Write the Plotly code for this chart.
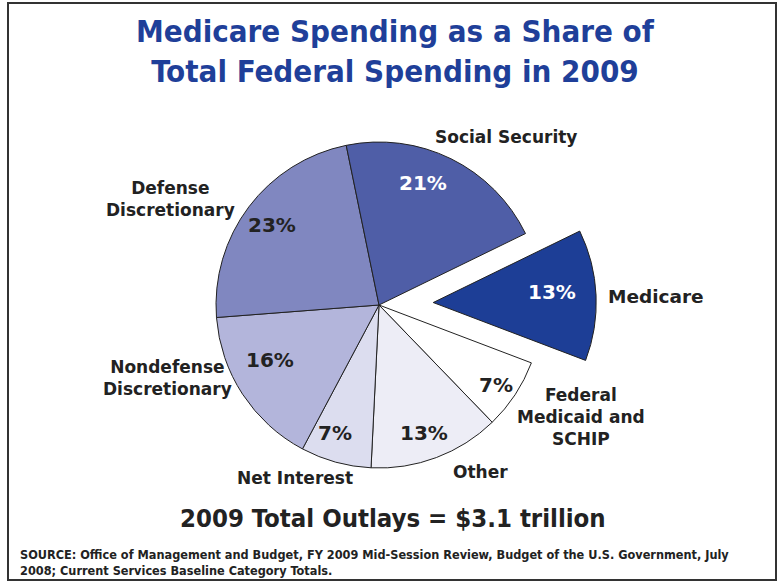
import plotly.graph_objects as go

W, H = 778, 582

# ---- data ----
categories = ["Medicare", "Federal Medicaid and SCHIP", "Other", "Net Interest",
              "Nondefense Discretionary", "Defense Discretionary", "Social Security"]
shares = [13, 7, 13, 7, 16, 23, 21]
pct_labels = ["13%", "7%", "13%", "7%", "16%", "23%", "21%"]
name_labels = ["Medicare", "Federal<br>Medicaid and<br>SCHIP", "Other", "Net Interest",
               "Nondefense<br>Discretionary", "Defense<br>Discretionary", "Social Security"]

# ---- styles ----
colors = ["#1D3E96", "#FFFFFF", "#EDEDF6", "#DCDDEF", "#B3B5DB", "#8087C0", "#4F5EA7"]
pct_colors = ["white", "#222222", "#222222", "#222222", "#222222", "#222222", "white"]
name_sizes = [18.5, 17, 17, 17, 17, 17, 17]
pulls = [0.333, 0, 0, 0, 0, 0, 0]

# label positions in pixels (centres)
pct_pos = [(552, 292), (496, 385), (424, 433), (335, 433), (270, 360), (272, 225), (423, 183)]
name_pos = [(656, 296), (581, 417), (480, 472), (295, 478), (167, 378), (170, 199), (506, 137)]


def px(x):
    return x / W


def py(y):
    return 1 - y / H


# pie geometry: centre (379,305), radius 163
cx, cy, r = 379, 305, 163
half = r * (1 + max(pulls))

fig = go.Figure(go.Pie(
    labels=categories,
    values=shares,
    sort=False,
    direction="clockwise",
    rotation=64,
    pull=pulls,
    textinfo="none",
    hoverinfo="label+percent",
    marker=dict(colors=colors, line=dict(color="#222222", width=1)),
    domain=dict(x=[px(cx - half), px(cx + half)], y=[py(cy + half), py(cy - half)]),
    showlegend=False,
))

ann = []
for t, c, (x, y) in zip(pct_labels, pct_colors, pct_pos):
    ann.append(dict(text=t, x=px(x), y=py(y), xref="paper", yref="paper",
                    showarrow=False, xanchor="center", yanchor="middle",
                    font=dict(family="DejaVu Sans", size=20, color=c, weight="bold")))
for t, s, (x, y) in zip(name_labels, name_sizes, name_pos):
    ann.append(dict(text=t, x=px(x), y=py(y), xref="paper", yref="paper",
                    showarrow=False, xanchor="center", yanchor="middle",
                    font=dict(family="DejaVu Sans", size=s, color="#222222", weight="bold")))

ann.append(dict(text="Medicare Spending as a Share of<br>Total Federal Spending in 2009",
                x=px(395), y=py(51), xref="paper", yref="paper", showarrow=False,
                xanchor="center", yanchor="middle",
                font=dict(family="DejaVu Sans Condensed", size=31, color="#1F3F99", weight="bold")))
ann.append(dict(text="2009 Total Outlays = $3.1 trillion",
                x=px(393), y=py(518), xref="paper", yref="paper", showarrow=False,
                xanchor="center", yanchor="middle",
                font=dict(family="DejaVu Sans Condensed", size=25.5, color="#222222", weight="bold")))
ann.append(dict(text="SOURCE: Office of Management and Budget, FY 2009 Mid-Session Review, Budget of the U.S. Government, July<br>2008; Current Services Baseline Category Totals.",
                x=px(18), y=py(562), xref="paper", yref="paper", showarrow=False,
                xanchor="left", yanchor="middle", align="left",
                font=dict(family="DejaVu Sans Condensed", size=12.6, color="#222222", weight="bold")))

fig.update_layout(
    width=W, height=H,
    margin=dict(l=0, r=0, t=0, b=0),
    paper_bgcolor="white",
    plot_bgcolor="white",
    annotations=ann,
    shapes=[dict(type="rect", xref="paper", yref="paper",
                 x0=px(8), x1=px(776), y0=py(580), y1=py(3),
                 line=dict(color="#333333", width=2))],
)

fig.write_html("out.html", config={"displayModeBar": False},
               post_script="document.body.style.margin='0';document.body.style.overflow='hidden';")
